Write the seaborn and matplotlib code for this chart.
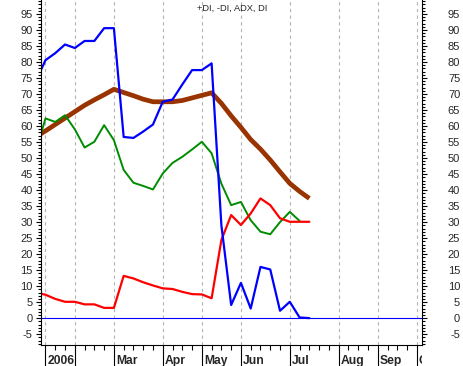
import matplotlib
matplotlib.use("Agg")
import matplotlib.pyplot as plt
import matplotlib.transforms as mtrans
import numpy as np
import pandas as pd
import seaborn as sns
from matplotlib.ticker import FixedLocator, MultipleLocator, NullFormatter
from matplotlib.transforms import Bbox, TransformedBbox

# ---- data (weekly bars, index 0 = first week shown under "2006") ----
weeks = list(range(-1, 28))
plus_di = [74, 80.6, 82.8, 85.5, 84.4, 86.6, 86.6, 90.6, 90.6, 56.6,
           56.3, 58.3, 60.5, 67.6, 68.3, 73.0, 77.5, 77.5, 79.6, 29.0,
           4.1, 11.0, 3.0, 16.0, 15.2, 2.3, 5.1, 0.2, 0.0]
minus_di = [8.0, 7.3, 6.0, 5.1, 5.1, 4.3, 4.3, 3.2, 3.2, 13.2,
            12.4, 11.2, 10.2, 9.3, 9.1, 8.2, 7.5, 7.4, 6.2, 24.4,
            32.2, 29.1, 32.7, 37.4, 35.3, 31.2, 30.1, 30.1, 30.1]
adx = [56.6, 58.5, 60.5, 62.5, 64.5, 66.5, 68.2, 69.8, 71.5, 70.5,
       69.5, 68.4, 67.6, 67.6, 67.6, 68.0, 68.8, 69.6, 70.4, 67.1,
       63.2, 59.6, 55.8, 52.8, 49.4, 45.7, 42.1, 39.6, 37.4]
di = [52.0, 62.4, 61.3, 63.4, 59.0, 53.3, 55.1, 60.3, 55.6, 46.3,
      42.3, 41.3, 40.2, 45.2, 48.5, 50.4, 52.7, 55.1, 51.5, 42.0,
      35.3, 36.3, 30.6, 27.0, 26.2, 30.0, 33.2, 30.4, np.nan]

month_pos = [0, 3, 7, 12, 16, 20, 25, 30, 34, 38]
month_labels = ["2006", "", "Mar", "Apr", "May", "Jun", "Jul", "Aug", "Sep", "Oct"]
y_ticks = list(range(-5, 100, 5))
title = "+DI, -DI, ADX, DI"

df = pd.DataFrame({"week": weeks, "+DI": plus_di, "-DI": minus_di,
                   "ADX": adx, "DI": di})

sns.set_style("white")
plt.rcParams["font.family"] = ["Liberation Sans", "DejaVu Sans"]
plt.rcParams["axes.unicode_minus"] = False

fig = plt.figure(figsize=(4.63, 3.66), dpi=100)
ax = fig.add_axes([41 / 463, 21 / 366, 381 / 463, 345 / 366])

sns.lineplot(data=df, x="week", y="ADX", color="#993300", lw=3.4,
             ax=ax, legend=False, solid_capstyle="butt")
sns.lineplot(data=df.dropna(subset=["DI"]), x="week", y="DI", color="#008c00",
             lw=1.4, ax=ax, legend=False)
sns.lineplot(data=df, x="week", y="-DI", color="#ff0000", lw=1.6,
             ax=ax, legend=False)
sns.lineplot(data=df, x="week", y="+DI", color="#0000ff", lw=1.6,
             ax=ax, legend=False)
ax.axhline(0, color="#0000ff", lw=0.8)

ax.set_xlim(-0.46, 38.53)
ax.set_ylim(-8.4, 99.4)
ax.set_xlabel("")
ax.set_ylabel("")

# spines
for s in ["left", "right", "bottom"]:
    ax.spines[s].set_visible(True)
    ax.spines[s].set_color("black")
    ax.spines[s].set_linewidth(0.8)
ax.spines["top"].set_visible(False)

# x ticks
ax.xaxis.set_major_locator(FixedLocator(month_pos))
ax.xaxis.set_minor_locator(FixedLocator([w for w in range(0, 39) if w not in month_pos]))
ax.xaxis.set_major_formatter(NullFormatter())
ax.tick_params(axis="x", which="major", direction="out", length=15.5, width=0.8,
               color="black", bottom=True)
ax.tick_params(axis="x", which="minor", direction="out", length=3.6, width=0.8,
               color="black", bottom=True)
ax.grid(axis="x", which="major", color="#b4b4b4", linestyle=(0, (3, 3)), linewidth=0.8)
ax.grid(axis="y", visible=False)

# y ticks both sides
ax.yaxis.set_major_locator(FixedLocator(y_ticks))
ax.yaxis.set_minor_locator(MultipleLocator(1))
ax.tick_params(axis="y", which="both", left=True, right=True, direction="out",
               color="black", width=0.8, labelsize=8)
ax.tick_params(axis="y", which="major", length=3.6)
ax.tick_params(axis="y", which="minor", length=2.0)
ax.tick_params(axis="y", which="major", labelleft=True, labelright=True, pad=2.3)
offset = mtrans.ScaledTranslation(30 / 100, 0, fig.dpi_scale_trans)
for t in ax.yaxis.get_major_ticks():
    t.label2.set_horizontalalignment("right")
    t.label2.set_transform(t.label2.get_transform() + offset)

# month labels, clipped at the plot's right edge
clip = TransformedBbox(Bbox([[0, -1], [1, 1]]), ax.transAxes)
for pos, lab in zip(month_pos, month_labels):
    t = ax.annotate(lab, xy=(pos, 0), xycoords=("data", "axes fraction"),
                    xytext=(1.4, -13.7), textcoords="offset points",
                    ha="left", va="baseline", fontsize=8.7, fontweight="bold",
                    annotation_clip=False)
    t.set_clip_box(clip)
    t.set_clip_on(True)

ax.text(0.501, 1 - 8 / 345, title, transform=ax.transAxes, ha="center",
        va="center", fontsize=6.7)

fig.savefig("out.png", dpi=100)
